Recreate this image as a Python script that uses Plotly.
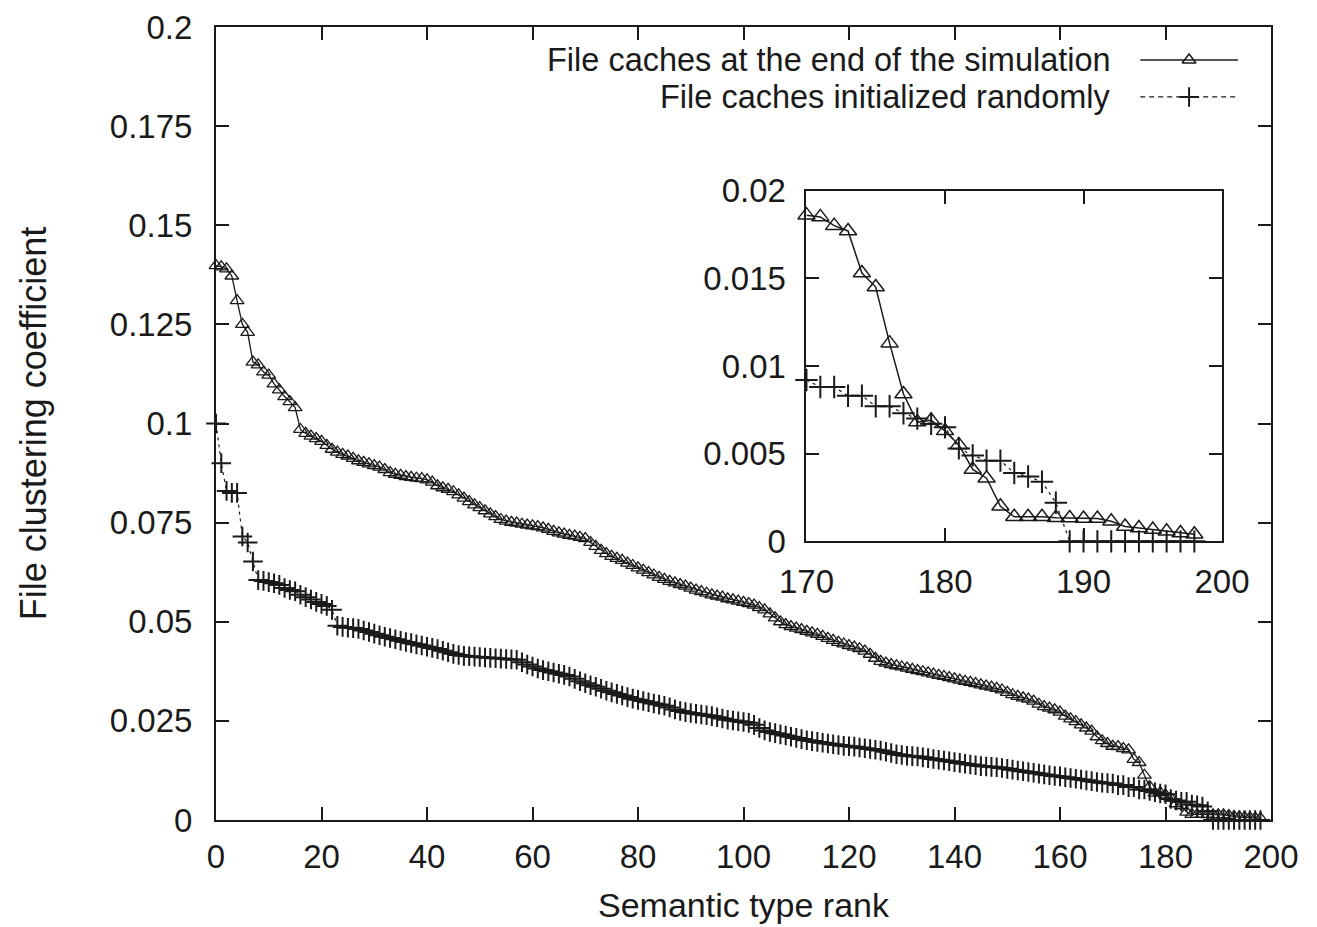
import plotly.graph_objects as go

# ---------------- data ----------------
rank = list(range(0, 199))

end_of_sim = [
    0.1398, 0.1395, 0.1390, 0.1372, 0.1310, 0.1250, 0.1230, 0.1155, 0.1148, 0.1130,
    0.1122, 0.1100, 0.1085, 0.1068, 0.1055, 0.1040, 0.0985, 0.0975, 0.0968, 0.0962,
    0.0955, 0.0945, 0.0935, 0.0928, 0.0922, 0.0918, 0.0912, 0.0906, 0.0902, 0.0898,
    0.0894, 0.0890, 0.0884, 0.0876, 0.0872, 0.0869, 0.0866, 0.0864, 0.0862, 0.0861,
    0.0858, 0.0852, 0.0843, 0.0838, 0.0834, 0.0828, 0.0820, 0.0812, 0.0803, 0.0795,
    0.0788, 0.0780, 0.0772, 0.0765, 0.0758, 0.0754, 0.0751, 0.0749, 0.0746, 0.0744,
    0.0742, 0.0740, 0.0737, 0.0733, 0.0728, 0.0724, 0.0721, 0.0718, 0.0716, 0.0713,
    0.0710, 0.0700, 0.0690, 0.0680, 0.0672, 0.0665, 0.0660, 0.0655, 0.0648, 0.0642,
    0.0636, 0.0630, 0.0624, 0.0618, 0.0612, 0.0607, 0.0602, 0.0598, 0.0594, 0.0590,
    0.0585, 0.0580, 0.0576, 0.0572, 0.0568, 0.0565, 0.0562, 0.0558, 0.0555, 0.0552,
    0.0549, 0.0546, 0.0542, 0.0536, 0.0530, 0.0520, 0.0510, 0.0500, 0.0493, 0.0488,
    0.0484, 0.0480, 0.0476, 0.0472, 0.0468, 0.0463, 0.0458, 0.0453, 0.0448, 0.0444,
    0.0440, 0.0436, 0.0432, 0.0426, 0.0418, 0.0408, 0.0400, 0.0396, 0.0392, 0.0389,
    0.0386, 0.0383, 0.0380, 0.0377, 0.0374, 0.0371, 0.0368, 0.0365, 0.0362, 0.0359,
    0.0356, 0.0353, 0.0350, 0.0347, 0.0344, 0.0341, 0.0338, 0.0335, 0.0332, 0.0328,
    0.0322, 0.0316, 0.0312, 0.0308, 0.0305, 0.0300, 0.0292, 0.0286, 0.0282, 0.0278,
    0.0272, 0.0262, 0.0255, 0.0248, 0.0240, 0.0232, 0.0224, 0.0210, 0.0200, 0.0193,
    0.0186, 0.0185, 0.0180, 0.0177, 0.0153, 0.0145, 0.0113, 0.0084, 0.0068, 0.0069,
    0.0063, 0.0055, 0.0041, 0.0036, 0.0020, 0.0014, 0.0014, 0.0014, 0.00135, 0.00133,
    0.0013, 0.0013, 0.00114, 0.00085, 0.00076, 0.00067, 0.00057, 0.00048, 0.0004,
]

random_init = [
    0.1000, 0.0900, 0.0830, 0.0825, 0.0825, 0.0715, 0.0700, 0.0652, 0.0605, 0.0603,
    0.0600, 0.0597, 0.0593, 0.0585, 0.0580, 0.0577, 0.0568, 0.0562, 0.0556, 0.0550,
    0.0545, 0.0540, 0.0530, 0.0490, 0.0487, 0.0485, 0.0484, 0.0482, 0.0478, 0.0474,
    0.0470, 0.0466, 0.0462, 0.0459, 0.0456, 0.0452, 0.0449, 0.0446, 0.0443, 0.0440,
    0.0437, 0.0434, 0.0431, 0.0427, 0.0423, 0.0419, 0.0416, 0.0414, 0.0413, 0.0412,
    0.0411, 0.0410, 0.0409, 0.0408, 0.0407, 0.0406, 0.0405, 0.0404, 0.0398, 0.0392,
    0.0387, 0.0382, 0.0378, 0.0375, 0.0372, 0.0369, 0.0366, 0.0362, 0.0356, 0.0350,
    0.0345, 0.0340, 0.0336, 0.0331, 0.0326, 0.0322, 0.0318, 0.0314, 0.0310, 0.0306,
    0.0303, 0.0300, 0.0297, 0.0294, 0.0291, 0.0288, 0.0284, 0.0279, 0.0275, 0.0272,
    0.0270, 0.0268, 0.0266, 0.0264, 0.0262, 0.0259, 0.0256, 0.0253, 0.0251, 0.0249,
    0.0247, 0.0245, 0.0240, 0.0232, 0.0226, 0.0222, 0.0219, 0.0216, 0.0213, 0.0210,
    0.0207, 0.0204, 0.0201, 0.0199, 0.0197, 0.0195, 0.0193, 0.0191, 0.0189, 0.0187,
    0.0186, 0.0185, 0.0183, 0.0181, 0.0179, 0.0177, 0.0175, 0.0172, 0.0169, 0.0166,
    0.0164, 0.0162, 0.0161, 0.0160, 0.0158, 0.0156, 0.0154, 0.0152, 0.0150, 0.0148,
    0.0146, 0.0144, 0.0142, 0.0140, 0.0138, 0.0136, 0.0135, 0.0134, 0.0133, 0.0131,
    0.0129, 0.0127, 0.0125, 0.0123, 0.0121, 0.0119, 0.0117, 0.0115, 0.0113, 0.0111,
    0.0110, 0.0108, 0.0106, 0.0104, 0.0102, 0.0100, 0.0098, 0.0096, 0.0094, 0.0093,
    0.0092, 0.0088, 0.0088, 0.0083, 0.0083, 0.0077, 0.0077, 0.0073, 0.0070, 0.0067,
    0.0065, 0.0053, 0.0049, 0.0046, 0.0046, 0.0039, 0.0037, 0.0034, 0.0022, 0.0,
    0.0, 0.0, 0.0, 0.0, 0.0, 0.0, 0.0, 0.0, 0.0,
]

series_names = ["File caches at the end of the simulation", "File caches initialized randomly"]

x_ticks = [0, 20, 40, 60, 80, 100, 120, 140, 160, 180, 200]
y_ticks = [0, 0.025, 0.05, 0.075, 0.1, 0.125, 0.15, 0.175, 0.2]
y_ticklabels = ["0", "0.025", "0.05", "0.075", "0.1", "0.125", "0.15", "0.175", "0.2"]

inset_start = 170
inset_x_ticks = [170, 180, 190, 200]
inset_y_ticks = [0, 0.005, 0.01, 0.015, 0.02]
inset_y_ticklabels = ["0", "0.005", "0.01", "0.015", "0.02"]

# ---------------- figure ----------------
FONT = "Liberation Sans, Arial, sans-serif"
FS = 33
BLACK = "#1a1a1a"

fig = go.Figure()

tri_marker = dict(symbol="triangle-up-open", size=12, color=BLACK, line=dict(width=1.3, color=BLACK))
crs_marker = dict(symbol="cross-thin-open", size=14, color=BLACK, line=dict(width=2, color=BLACK))

# main plot
fig.add_trace(go.Scatter(x=rank, y=end_of_sim, mode="lines+markers", name=series_names[0],
                         line=dict(color=BLACK, width=1.3), marker=tri_marker,
                         cliponaxis=False, showlegend=False))
fig.add_trace(go.Scatter(x=rank, y=random_init, mode="lines+markers", name=series_names[1],
                         line=dict(color=BLACK, width=1.2, dash="3px,4px"), marker=crs_marker,
                         cliponaxis=False, showlegend=False))

# inset
ix = rank[inset_start:]
fig.add_trace(go.Scatter(x=ix, y=end_of_sim[inset_start:], mode="lines+markers",
                         line=dict(color=BLACK, width=1.5),
                         marker=dict(symbol="triangle-up-open", size=15, color=BLACK, line=dict(width=1.5, color=BLACK)),
                         xaxis="x2", yaxis="y2", cliponaxis=False, showlegend=False))
fig.add_trace(go.Scatter(x=ix, y=random_init[inset_start:], mode="lines+markers",
                         line=dict(color=BLACK, width=1.2, dash="3px,4px"),
                         marker=dict(symbol="cross-thin-open", size=16, color=BLACK, line=dict(width=2, color=BLACK)),
                         xaxis="x2", yaxis="y2", cliponaxis=False, showlegend=False))

# legend keys (on a hidden helper axis)
fig.add_trace(go.Scatter(x=[0, 1], y=[0.75, 0.75], mode="lines", line=dict(color=BLACK, width=1.5),
                         xaxis="x3", yaxis="y3", showlegend=False, hoverinfo="skip"))
fig.add_trace(go.Scatter(x=[0.5], y=[0.75], mode="markers",
                         marker=dict(symbol="triangle-up-open", size=12, color=BLACK, line=dict(width=1.5, color=BLACK)),
                         xaxis="x3", yaxis="y3", showlegend=False, hoverinfo="skip"))
fig.add_trace(go.Scatter(x=[0, 1], y=[0.25, 0.25], mode="lines", line=dict(color=BLACK, width=1.2, dash="5px,4px"),
                         xaxis="x3", yaxis="y3", showlegend=False, hoverinfo="skip"))
fig.add_trace(go.Scatter(x=[0.5], y=[0.25], mode="markers",
                         marker=dict(symbol="cross-thin-open", size=14, color=BLACK, line=dict(width=2, color=BLACK)),
                         xaxis="x3", yaxis="y3", showlegend=False, hoverinfo="skip"))

axis_common = dict(showline=True, linecolor=BLACK, linewidth=2, mirror="allticks",
                   ticks="inside", ticklen=13, tickwidth=2, tickcolor=BLACK,
                   showgrid=False, zeroline=False, automargin=False,
                   tickfont=dict(family=FONT, size=FS, color=BLACK))

LEG_FS = 32.5

fig.update_layout(
    width=1317, height=927,
    margin=dict(l=216, r=46, t=27, b=106.5),
    paper_bgcolor="white", plot_bgcolor="white",
    font=dict(family=FONT, size=FS, color=BLACK),
    xaxis=dict(range=[0, 200], tickvals=x_ticks, domain=[0, 1], ticklabelstandoff=6,
               title=dict(text="Semantic type rank", font=dict(family=FONT, size=34, color=BLACK), standoff=20),
               **axis_common),
    yaxis=dict(range=[0, 0.2], tickvals=y_ticks, ticktext=y_ticklabels, domain=[0, 1], ticklabelstandoff=15,
               title=dict(text="File clustering coefficient", font=dict(family=FONT, size=36, color=BLACK), standoff=52),
               **axis_common),
    xaxis2=dict(range=[170, 200], tickvals=inset_x_ticks, domain=[0.5597, 0.9536], anchor="y2",
                ticklabelstandoff=10, **axis_common),
    yaxis2=dict(range=[0, 0.02], tickvals=inset_y_ticks, ticktext=inset_y_ticklabels,
                domain=[0.3514, 0.7937], anchor="x2", ticklabelstandoff=12, **axis_common),
    xaxis3=dict(range=[0, 1], domain=[0.876, 0.9687], anchor="y3", visible=False, fixedrange=True),
    yaxis3=dict(range=[0, 1], domain=[0.8885, 0.9817], anchor="x3", visible=False, fixedrange=True),
    annotations=[
        dict(text=series_names[0], xref="paper", yref="paper", x=0.850, y=0.9584,
             xanchor="right", yanchor="middle", showarrow=False,
             font=dict(family=FONT, size=LEG_FS, color=BLACK)),
        dict(text=series_names[1], xref="paper", yref="paper", x=0.850, y=0.9118,
             xanchor="right", yanchor="middle", showarrow=False,
             font=dict(family=FONT, size=LEG_FS, color=BLACK)),
    ],
)

fig.write_html("out.html")
